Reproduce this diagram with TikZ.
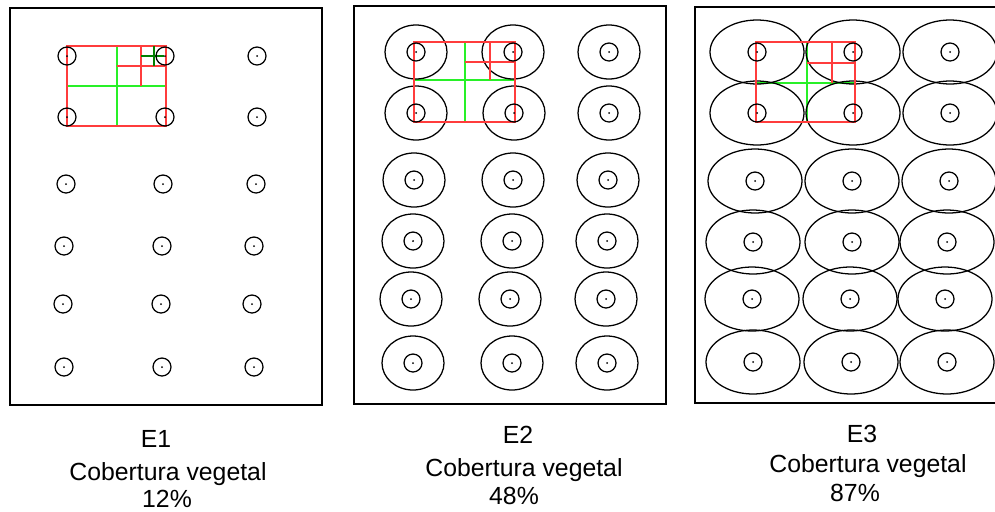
\documentclass[tikz,border=0pt]{standalone}
\usepackage{fontspec}
\setmainfont{Liberation Sans}
\definecolor{gridred}{RGB}{255,60,60}
\definecolor{gridgreen}{RGB}{40,240,40}
\definecolor{griddark}{RGB}{0,128,0}

\begin{document}
\begin{tikzpicture}[
		x=0.75pt,y=-0.75pt,
		frame/.style  ={draw,line width=1.2pt},
		plant/.style  ={draw,line width=0.95pt},
		canopy/.style ={draw,line width=0.95pt},
		stem/.style   ={fill=black},
		lvlone/.style ={draw=gridgreen,line width=1.5pt},
		lvltwo/.style ={draw=gridred,line width=1.5pt},
		lvlthree/.style={draw=griddark,line width=1.5pt},
		captxt/.style ={font=\fontsize{18.6}{22}\selectfont,anchor=base}
		]

		\useasboundingbox (0,0) rectangle (995,511);
		\clip (0,0) rectangle (995,511);

		% =====================================================
		% Three plots: E1 | E2 | E3
		% same 3 x 6 planting grid, growing canopy
		% =====================================================

		% ---- plot frames ----
		\draw[frame] (10,8)  rectangle (322,405);
		\draw[frame] (354,6) rectangle (666,404);
		\draw[frame] (695,7) rectangle (1000,403);

		% ---- sampling quadrats, first split (green) ----
		\draw[lvlone] (116.5,46) -- (116.5,126) (67,86) -- (166,86);
		\draw[lvlone] (465,42) -- (465,122) (414,80) -- (515,80);
		\draw[lvlone] (807,42) -- (807,122) (756,83) -- (855,83);

		% ---- E2 canopies ----
		\foreach \y/\a/\b/\c in {52/416/513/609, 113/416/514/609, 180/414/513/608,
				241/413/512/607, 299/411/510/606, 363/413/512/607}
			\foreach \x in {\a,\b,\c}
				\draw[canopy] (\x,\y) ellipse[x radius=31, y radius=27];

		% ---- E3 canopies ----
		\foreach \y/\a/\b/\c in {52/757/853/950, 113/757/853/950, 181/755/852/949,
				242/753/852/947, 299/752/850/945, 362/753/851/947}
			\foreach \x in {\a,\b,\c}
				\draw[canopy] (\x,\y) ellipse[x radius=47, y radius=32];

		% ---- sampling quadrats, outer box and second split (red) ----
		\draw[lvltwo] (67,46) rectangle (166,126);
		\draw[lvltwo] (141,46) -- (141,86) (116.5,66) -- (166,66);
		\draw[lvltwo] (414,42) rectangle (515,122);
		\draw[lvltwo] (490,42) -- (490,80) (465,62) -- (515,62);
		\draw[lvltwo] (756,42) rectangle (855,122);
		\draw[lvltwo] (832,42) -- (832,83) (807,63) -- (855,63);

		% ---- third split, E1 only (dark green) ----
		\draw[lvlthree] (153.5,46) -- (153.5,66) (141,56) -- (164,56);

		% ---- plants (stem + small circle) ----
		\foreach \y/\a/\b/\c in {56/67/165/257, 117/67/165/257, 184/66/163/256,
				246/64/162/254, 304/63/161/252, 367/64/162/254,
				52/416/513/609, 113/416/514/609, 180/414/513/608,
				241/413/512/607, 299/411/510/606, 363/413/512/607,
				52/757/853/950, 113/757/853/950, 181/755/852/949,
				242/753/852/947, 299/752/850/945, 362/753/851/947}
			\foreach \x in {\a,\b,\c} {
				\draw[plant] (\x,\y) circle[radius=9];
				\fill[stem] (\x,\y) circle[radius=1];
			}

		% ---- captions ----
		\node[captxt] (e1name) at (156,447) {E1};
		\node[captxt] (e1cov)  at (168,480) {Cobertura vegetal};
		\node[captxt] (e1pct)  at (167,507) {12\%};

		\node[captxt] (e2name) at (518,443) {E2};
		\node[captxt] (e2cov)  at (524,476) {Cobertura vegetal};
		\node[captxt] (e2pct)  at (514,504) {48\%};

		\node[captxt] (e3name) at (862,442) {E3};
		\node[captxt] (e3cov)  at (868,472) {Cobertura vegetal};
		\node[captxt] (e3pct)  at (855,501) {87\%};

	\end{tikzpicture}
\end{document}
